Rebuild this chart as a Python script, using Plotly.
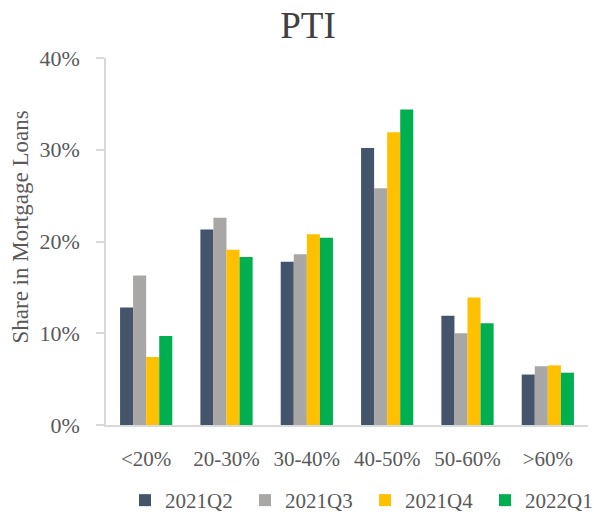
import plotly.graph_objects as go

categories = ["<20%", "20-30%", "30-40%", "40-50%", "50-60%", ">60%"]
series_names = ["2021Q2", "2021Q3", "2021Q4", "2022Q1"]
q2_2021 = [0.128, 0.213, 0.178, 0.302, 0.119, 0.055]
q3_2021 = [0.163, 0.226, 0.186, 0.258, 0.100, 0.064]
q4_2021 = [0.074, 0.191, 0.208, 0.319, 0.139, 0.065]
q1_2022 = [0.097, 0.183, 0.204, 0.344, 0.111, 0.057]
colors = ["#44546A", "#A9A6A6", "#FFC000", "#00B050"]
y_ticks = [0, 0.1, 0.2, 0.3, 0.4]
y_tick_labels = ["0%", "10%", "20%", "30%", "40%"]

FONT = "Liberation Serif"
TXT = "#595959"

fig = go.Figure()
for name, vals, col in zip(series_names, [q2_2021, q3_2021, q4_2021, q1_2022], colors):
    fig.add_trace(go.Bar(x=categories, y=vals, name=name, marker_color=col,
                         marker_line_width=0))

fig.update_layout(
    width=594, height=521,
    margin=dict(l=106, r=6, t=58, b=96, autoexpand=False),
    paper_bgcolor="white", plot_bgcolor="white",
    barmode="group", bargap=0.35, bargroupgap=0,
    font=dict(family=FONT, color=TXT),
    title=dict(text="PTI", font=dict(family=FONT, size=37, color="#404040"),
               x=308/594, xref="container", xanchor="center",
               y=1-25/521, yref="container", yanchor="middle"),
    showlegend=True,
    legend=dict(orientation="h", xref="container", yref="container",
                x=125/594, xanchor="left", y=0, yanchor="bottom",
                entrywidth=75, entrywidthmode="pixels",
                font=dict(family=FONT, size=21, color=TXT),
                bgcolor="rgba(0,0,0,0)"),
    annotations=[dict(text="Share in Mortgage Loans", textangle=-90,
                      xref="paper", yref="paper", showarrow=False,
                      x=(20-106)/482, y=(425-227.5)/367, xanchor="center", yanchor="middle",
                      font=dict(family=FONT, size=23, color=TXT))],
)
fig.update_xaxes(showgrid=False, showline=True, linecolor="#D9D9D9", linewidth=2,
                 ticks="", tickfont=dict(family=FONT, size=21, color=TXT),
                 ticklabelstandoff=14, zeroline=False)
fig.update_yaxes(range=[0, 0.4], tickvals=y_ticks, ticktext=y_tick_labels,
                 showgrid=False, showline=True, linecolor="#D9D9D9", linewidth=1.5,
                 ticks="outside", ticklen=8, tickcolor="#D9D9D9", tickwidth=1.5,
                 tickfont=dict(family=FONT, size=22, color=TXT),
                 ticklabelstandoff=12, zeroline=False)

fig.write_html("out.html", config={"displayModeBar": False},
               post_script="document.body.style.margin='0px';")
